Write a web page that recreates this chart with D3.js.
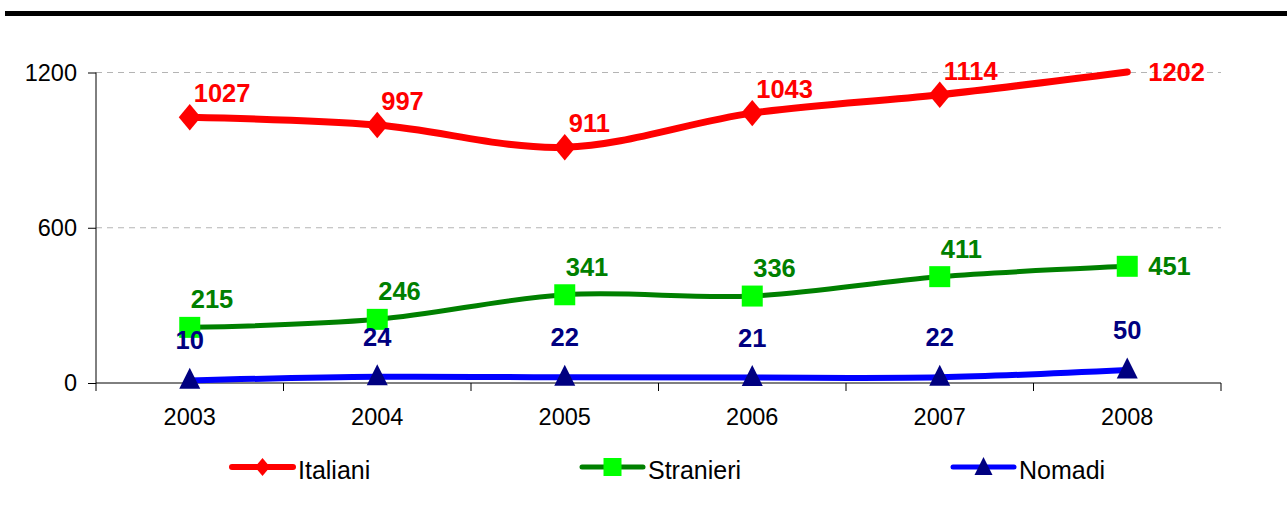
<!DOCTYPE html>
<html>
<head>
<meta charset="utf-8">
<script src="https://cdn.jsdelivr.net/npm/d3@7"></script>
<style>
  body { margin: 0; background: #fff; }
  text { font-family: "Liberation Sans", Arial, sans-serif; }
</style>
</head>
<body>
<div id="chart"></div>
<script>
const years = ["2003", "2004", "2005", "2006", "2007", "2008"];
const italiani = [1027, 997, 911, 1043, 1114, 1202];
const stranieri = [215, 246, 341, 336, 411, 451];
const nomadi = [10, 24, 22, 21, 22, 50];
const yTicks = [0, 600, 1200];

const width = 1287, height = 511;
const margin = { left: 96, right: 66, top: 72.5, bottom: 128 };

const svg = d3.select("#chart").append("svg")
    .attr("width", width)
    .attr("height", height);

// black rule at the top
svg.append("rect")
    .attr("x", 5).attr("y", 11)
    .attr("width", width - 5).attr("height", 5)
    .attr("fill", "#000");

const x = d3.scaleBand()
    .domain(years)
    .range([margin.left, width - margin.right]);

const y = d3.scaleLinear()
    .domain([0, 1200])
    .range([height - margin.bottom, margin.top]);

const cx = (d) => x(d) + x.bandwidth() / 2;

// grid
svg.append("g")
    .selectAll("line")
    .data(yTicks.filter(t => t > 0))
    .enter().append("line")
    .attr("x1", margin.left).attr("x2", width - margin.right)
    .attr("y1", d => y(d)).attr("y2", d => y(d))
    .attr("stroke", "#b4b4b4")
    .attr("stroke-dasharray", "6,5");

// y axis
const yAxis = svg.append("g")
    .attr("transform", `translate(${margin.left},0)`)
    .call(d3.axisLeft(y).tickValues(yTicks).tickSize(8).tickPadding(11).tickFormat(d3.format("d")));
yAxis.select(".domain").attr("stroke", "#000").attr("d", `M0,${y(1200)}V${y(0)}`);
yAxis.selectAll("text").attr("font-size", 23.5).attr("fill", "#000");

// x axis with ticks at band boundaries
const xg = svg.append("g").attr("transform", `translate(0,${y(0)})`);
xg.append("line")
    .attr("x1", margin.left).attr("x2", width - margin.right)
    .attr("stroke", "#000");
const bounds = years.map(d => x(d)).concat([width - margin.right]);
xg.selectAll("line.tk").data(bounds).enter().append("line")
    .attr("class", "tk")
    .attr("x1", d => d).attr("x2", d => d)
    .attr("y1", 0).attr("y2", 8)
    .attr("stroke", "#000");
xg.selectAll("text").data(years).enter().append("text")
    .attr("x", d => cx(d))
    .attr("y", 42)
    .attr("text-anchor", "middle")
    .attr("font-size", 23.5)
    .text(d => d);

const series = [
    { name: "Italiani", values: italiani, line: "#ff0000", fill: "#ff0000", label: "#ff0000", width: 7, marker: "diamond" },
    { name: "Stranieri", values: stranieri, line: "#008000", fill: "#00ff00", label: "#008000", width: 5, marker: "square" },
    { name: "Nomadi", values: nomadi, line: "#0000ff", fill: "#000080", label: "#000080", width: 6, marker: "triangle" }
];

const markerPath = (type, s) => {
    if (type === "diamond") return `M0,${-s * 0.6}L${s * 0.5},0L0,${s * 0.6}L${-s * 0.5},0Z`;
    if (type === "square") return `M${-s / 2},${-s / 2}h${s}v${s}h${-s}Z`;
    return `M0,${-s * 0.55}L${s / 2},${s * 0.45}L${-s / 2},${s * 0.45}Z`;
};

const line = d3.line()
    .x((d, i) => cx(years[i]))
    .y(d => y(d))
    .curve(d3.curveCardinal.tension(0));

series.forEach((s) => {
    const g = svg.append("g");
    g.append("path")
        .datum(s.values)
        .attr("d", line)
        .attr("fill", "none")
        .attr("stroke", s.line)
        .attr("stroke-width", s.width)
        .attr("stroke-linecap", "round")
        .attr("stroke-linejoin", "round");

    // the last Italiani point has no diamond in the original
    const pts = s.values.map((v, i) => ({ v, i }))
        .filter(p => !(s.marker === "diamond" && p.i === years.length - 1));
    g.selectAll("path.m").data(pts).enter().append("path")
        .attr("class", "m")
        .attr("transform", p => `translate(${cx(years[p.i])},${y(p.v) + (s.marker === "triangle" ? -1 : 0)})`)
        .attr("d", markerPath(s.marker, s.marker === "diamond" ? 22 : 21))
        .attr("fill", s.fill);

    const last = years.length - 1;
    g.selectAll("text").data(s.values).enter().append("text")
        .attr("x", (d, i) => {
            if (s.marker === "triangle") return cx(years[i]);
            if (i === last) return cx(years[i]) + 21;
            return cx(years[i]) + (s.marker === "diamond" ? 4 : 1);
        })
        .attr("y", (d, i) => {
            if (s.marker === "triangle") return y(d) - 31;
            if (i === last) return y(d) + 9;
            return y(d) - (s.marker === "diamond" ? 15 : 19);
        })
        .attr("text-anchor", s.marker === "triangle" ? "middle" : "start")
        .attr("font-size", 25.5)
        .attr("font-weight", "bold")
        .attr("fill", s.label)
        .text(d => d);
});

// legend
const legendX = [232, 582, 953];
const legendY = 467;
series.forEach((s, i) => {
    const g = svg.append("g").attr("transform", `translate(${legendX[i]},${legendY})`);
    g.append("line")
        .attr("x1", 0).attr("x2", 61)
        .attr("stroke", s.line)
        .attr("stroke-width", s.marker === "diamond" ? 6 : 5)
        .attr("stroke-linecap", "round");
    g.append("path")
        .attr("transform", "translate(30.5,0)")
        .attr("d", markerPath(s.marker, s.marker === "diamond" ? 15 : 18))
        .attr("fill", s.fill);
    g.append("text")
        .attr("x", 66)
        .attr("y", 12)
        .attr("font-size", 25)
        .attr("fill", "#000")
        .text(s.name);
});
</script>
</body>
</html>
